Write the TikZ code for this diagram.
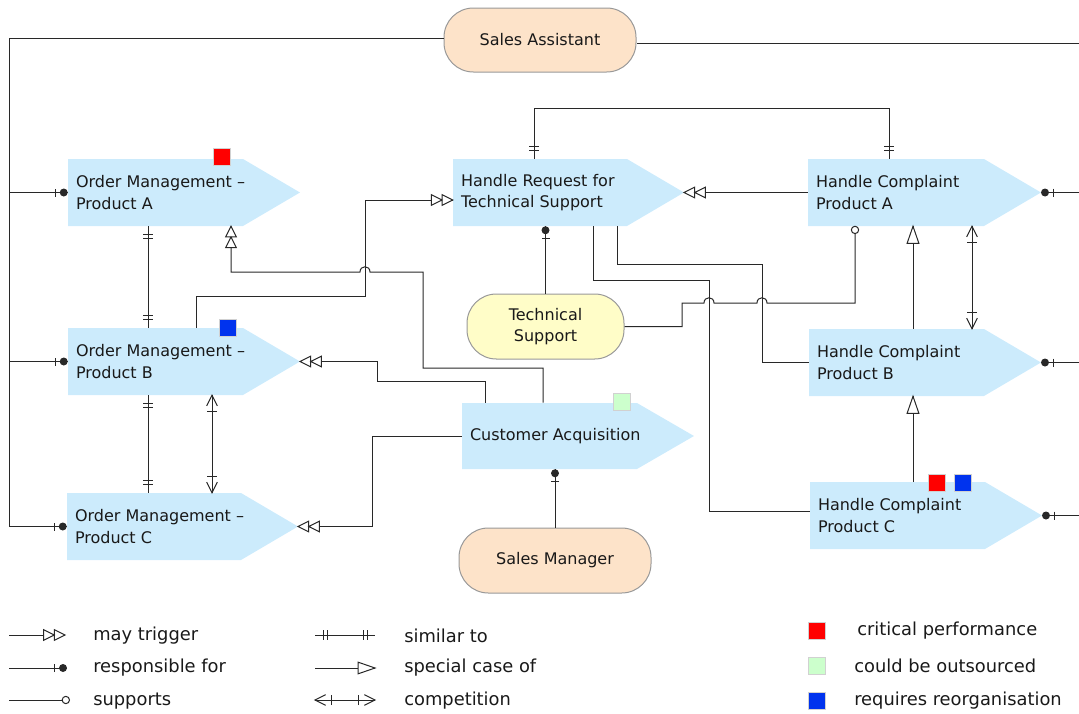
\documentclass[tikz,border=0pt]{standalone}
\usepackage{fontspec}
\setmainfont{DejaVu Sans}
\usetikzlibrary{decorations.markings,calc}
\definecolor{procblue}{RGB}{204,235,252}
\definecolor{pillorange}{RGB}{253,227,201}
\definecolor{pillyellow}{RGB}{255,253,200}
\definecolor{linecol}{RGB}{40,40,40}
\definecolor{sqred}{RGB}{255,0,0}
\definecolor{sqblue}{RGB}{0,51,238}
\definecolor{sqgreen}{RGB}{204,255,204}
\tikzset{
  every node/.style={font=\fontsize{12}{16}\selectfont, text=black!90},
  conn/.style={draw=linecol, line width=0.75pt},
  tipline/.style={draw=linecol, line width=0.75pt},
  trig/.style={conn, postaction={decorate}, decoration={markings,
    mark=at position 1 with {\draw[tipline, fill=white] (0pt,0pt) -- (-8pt,4pt) -- (-8pt,-4pt) -- cycle (-8pt,0pt) -- (-16pt,4pt) -- (-16pt,-4pt) -- cycle;}}},
  resp/.style={conn, postaction={decorate}, decoration={markings,
    mark=at position -9.5pt with {\draw[tipline] (0pt,-3pt) -- (0pt,3pt);},
    mark=at position -3pt with {\fill[linecol] (0pt,0pt) circle (3pt);}}},
  supp/.style={conn, postaction={decorate}, decoration={markings,
    mark=at position -2.75pt with {\draw[tipline, fill=white] (0pt,0pt) circle (2.75pt);}}},
  sim/.style={conn, postaction={decorate}, decoration={markings,
    mark=at position 6pt with {\draw[tipline] (0pt,-3.5pt) -- (0pt,3.5pt);},
    mark=at position 9pt with {\draw[tipline] (0pt,-3.5pt) -- (0pt,3.5pt);},
    mark=at position -9pt with {\draw[tipline] (0pt,-3.5pt) -- (0pt,3.5pt);},
    mark=at position -6pt with {\draw[tipline] (0pt,-3.5pt) -- (0pt,3.5pt);}}},
  spec/.style={conn, postaction={decorate}, decoration={markings,
    mark=at position 1 with {\draw[tipline, fill=white] (0pt,0pt) -- (-12.75pt,4.4pt) -- (-12.75pt,-4.4pt) -- cycle;}}},
  comp/.style={conn, postaction={decorate}, decoration={markings,
    mark=at position 0 with {\draw[tipline] (8pt,4pt) -- (0pt,0pt) -- (8pt,-4pt);},
    mark=at position 12.5pt with {\draw[tipline] (0pt,-3.75pt) -- (0pt,3.75pt);},
    mark=at position -12.5pt with {\draw[tipline] (0pt,-3.75pt) -- (0pt,3.75pt);},
    mark=at position 1 with {\draw[tipline] (-8pt,4pt) -- (0pt,0pt) -- (-8pt,-4pt);}}},
  procfill/.style={fill=procblue},
  procrect/.style={rectangle, inner sep=0pt},
  proctext/.style={anchor=west, align=left, inner sep=0pt},
  pill/.style={rectangle, rounded corners=22pt, draw=black!40, line width=0.75pt, align=center, inner sep=0pt},
  sq/.style={rectangle, minimum size=12.75pt, inner sep=0pt, draw=black!18, line width=0.75pt},
  legtext/.style={anchor=west, inner sep=0pt, font=\fontsize{13.4}{16}\selectfont},
}
% name, x1, y1, x2, y2, text
\newcommand\procbox[6]{%
  \fill[procfill] (#2,#3) -- (#4,#3) -- ({#4+57},{(#3+#5)/2}) coordinate (#1-tip) -- (#4,#5) -- (#2,#5) -- cycle;
  \node[procrect, minimum width={(#4-#2)*0.75pt}, minimum height={(#5-#3)*0.75pt}] (#1) at ({(#2+#4)/2},{(#3+#5)/2}) {};
  \node[proctext] (#1-t) at ([xshift=6pt]#1.west) {#6};
}
\begin{document}
\begin{tikzpicture}[x=0.75pt, y=-0.75pt]
\useasboundingbox (0,0) rectangle (1079,714);

% processes
\procbox{omA}{68}{159}{243}{226}{Order Management –\\Product A}
\procbox{omB}{68}{328}{243}{395}{Order Management –\\Product B}
\procbox{omC}{67}{493}{241}{560}{Order Management –\\Product C}
\procbox{hr}{453}{159}{627}{226}{Handle Request for\\Technical Support}
\procbox{hca}{808}{159}{984}{226}{Handle Complaint\\Product A}
\procbox{hcb}{809}{329}{984}{396}{Handle Complaint\\Product B}
\procbox{hcc}{810}{482}{985}{549}{Handle Complaint\\Product C}
\procbox{ca}{462}{403}{637}{469}{Customer Acquisition}

% status squares
\node[sq, fill=sqred] (sqA) at (222,156.5) {};
\node[sq, fill=sqblue] (sqB) at (228,327.5) {};
\node[sq, fill=sqgreen] (sqCA) at (622,402) {};
\node[sq, fill=sqred] (sqC1) at (937,482.5) {};
\node[sq, fill=sqblue] (sqC2) at (963,482.5) {};

% roles
\node[pill, fill=pillorange, minimum width=144pt, minimum height=48pt] (sa) at (540,40) {Sales Assistant};
\node[pill, fill=pillyellow, minimum width=117.75pt, minimum height=48.75pt] (ts) at (545.5,326.5) {Technical\\Support};
\node[pill, fill=pillorange, minimum width=144pt, minimum height=48.75pt] (sm) at (555,560.5) {Sales Manager};

% Sales Assistant responsibilities
\coordinate (Lx) at (9,0);
\coordinate (Rsa) at (1079,43);
\draw[conn] ([yshift=1.5pt]sa.west) -| (Lx |- omC.west);
\draw[resp] (Lx |- omA.west) -- (omA.west);
\draw[resp] (Lx |- omB.west) -- (omB.west);
\draw[resp] (Lx |- omC.west) -- (omC.west);
\draw[conn] ([yshift=-2.25pt]sa.east) -- (Rsa);

% right edge responsibilities
\coordinate (R1) at (1079,192.5);
\coordinate (R2) at (1079,362.5);
\coordinate (R3) at (1079,515.5);
\draw[resp] (R1) -- (hca-tip);
\draw[resp] (R2) -- (hcb-tip);
\draw[resp] (R3) -- (hcc-tip);

% may trigger
\draw[trig] (ca.north -| 543,0) -- (543,368) -- (423,368) -- (423,272) -- (370,272) .. controls (370,265) and (360,265) .. (360,272) -- (231,272) -- (omA.south -| 231,0);
\draw[trig] (omB.north -| 196,0) -- (196,296) -- (365,296) -- (365,200) -- (hr.west |- 0,200);
\draw[trig] (hca.west) -- (hr-tip);
\draw[trig] (ca.north -| 485,0) -- (485,381) -- (377,381) -- (377,361.5) -- (omB-tip);
\draw[trig] (ca.west) -- (372,436) -- (372,526.5) -- (omC-tip);

% similar to
\draw[sim] (omA.south -| 148,0) -- (omB.north -| 148,0);
\draw[sim] (omB.south -| 148,0) -- (omC.north -| 148,0);
\draw[sim] (hr.north -| 534,0) -- (534,108) -- (889,108) -- (hca.north -| 889,0);

% competition
\draw[comp] (omB.south -| 212,0) -- (omC.north -| 212,0);
\draw[comp] (hca.south -| 972,0) -- (hcb.north -| 972,0);

% special case of
\draw[spec] (hcb.north -| 913,0) -- (hca.south -| 913,0);
\draw[spec] (hcc.north -| 913,0) -- (hcb.south -| 913,0);

% responsible for
\draw[resp] (ts.north) -- (hr.south -| ts.north);
\draw[resp] (sm.north) -- (ca.south -| sm.north);

% supports
\draw[supp] (ts.east) -- (682,326.5) -- (682,303) -- (704,303) .. controls (704,296) and (714,296) .. (714,303) -- (757,303) .. controls (757,296) and (767,296) .. (767,303) -- (855,303) -- (hca.south -| 855,0);

% plain connections
\draw[conn] (hr.south -| 593,0) -- (593,280) -- (709,280) -- (709,511) -- (hcc.west |- 0,511);
\draw[conn] (hr.south -| 617,0) -- (617,264) -- (762,264) -- (762,362.5) -- (hcb.west);

% legend
\coordinate (l1a) at (9,635); \coordinate (l1b) at (65,635);
\coordinate (l2a) at (9,668); \coordinate (l2b) at (67,668);
\coordinate (l3a) at (9,700); \coordinate (l3b) at (69.5,700);
\coordinate (l4a) at (315,635); \coordinate (l4b) at (375,635);
\coordinate (l5a) at (315,668); \coordinate (l5b) at (375,668);
\coordinate (l6a) at (315,700); \coordinate (l6b) at (375,700);
\draw[trig] (l1a) -- (l1b);
\draw[resp] (l2a) -- (l2b);
\draw[supp] (l3a) -- (l3b);
\draw[sim] (l4a) -- (l4b);
\draw[spec] (l5a) -- (l5b);
\draw[comp] (l6a) -- (l6b);
\node[legtext] (lt1) at (93,636) {may trigger};
\node[legtext] (lt2) at (93,668) {responsible for};
\node[legtext] (lt3) at (93,701) {supports};
\node[legtext] (lt4) at (404,636) {similar to};
\node[legtext] (lt5) at (404,668) {special case of};
\node[legtext] (lt6) at (404,701) {competition};

\node[sq, fill=sqred] (lq1) at (817,631) {};
\node[sq, fill=sqgreen] (lq2) at (817,666) {};
\node[sq, fill=sqblue] (lq3) at (817,701) {};
\node[legtext] (lt7) at (857,631) {critical performance};
\node[legtext] (lt8) at (854,666) {could be outsourced};
\node[legtext] (lt9) at (854,701) {requires reorganisation};
\end{tikzpicture}
\end{document}
